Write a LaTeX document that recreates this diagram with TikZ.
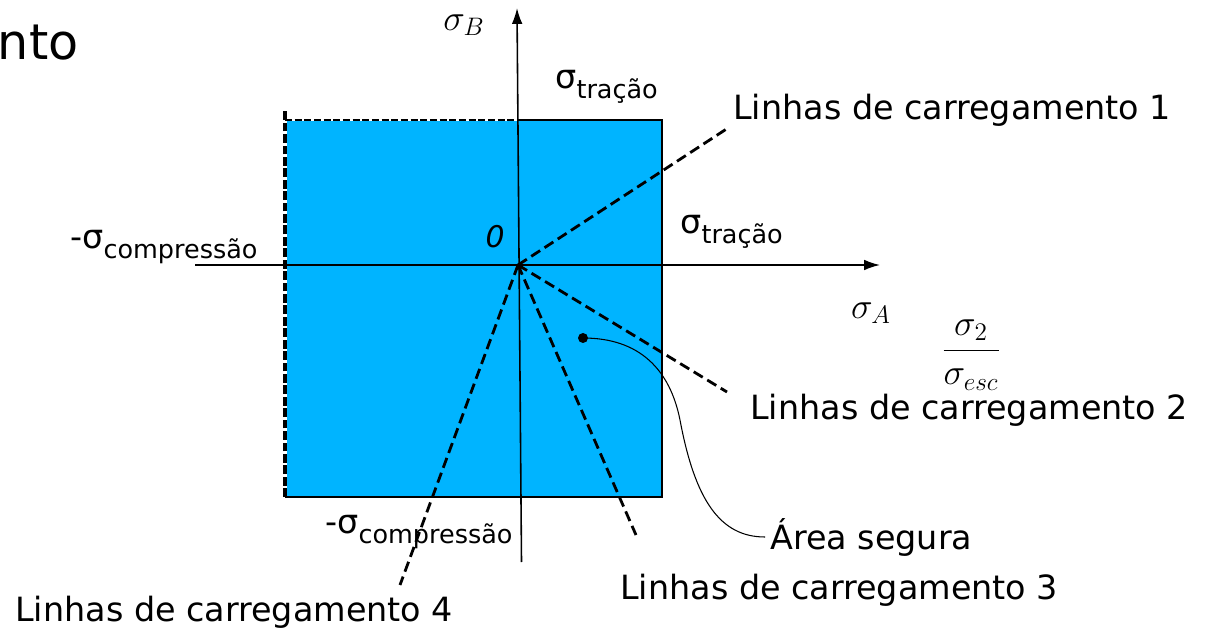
\documentclass[tikz,border=0pt]{standalone}
\usepackage{fontspec}
\setmainfont{DejaVu Sans}
\usetikzlibrary{arrows.meta}
\definecolor{safeblue}{RGB}{0,180,255}
\newcommand{\sigsub}[1]{σ\raisebox{-0.55ex}{\fontsize{14.5}{16}\selectfont #1}}

\begin{document}
\begin{tikzpicture}
        % Common Styles
        \tikzset{axis/.style={-{Latex[length=9pt,width=6pt]}, line width=0.9pt}}
        \tikzset{load/.style={line width=1.6pt, dash pattern=on 6pt off 3pt}}
        \tikzset{txt/.style={inner sep=0pt, font=\fontsize{19}{22}\selectfont}}
        \tikzset{mathtxt/.style={inner sep=0pt, font=\fontsize{20}{24}\selectfont}}

        \useasboundingbox (0,0) rectangle (24.2,12.7);

        % Safe region
        \fill[safeblue] (5.7,2.76) rectangle (13.24,10.3);
        \draw[line width=0.9pt] (10.36,10.3) -- (13.24,10.3) -- (13.24,2.76) -- (5.7,2.76);
        \draw[white, line width=1.8pt] (5.7,2.76) -- (5.7,10.5);
        \draw[white, line width=1.3pt] (5.7,10.3) -- (10.36,10.3);
        \draw[line width=1.8pt, dash pattern=on 5pt off 1.5pt] (5.7,2.76) -- (5.7,10.5);
        \draw[line width=1.3pt, dash pattern=on 4pt off 1.5pt] (5.7,10.3) -- (10.36,10.3);

        % Axes
        \coordinate (O) at (10.36,7.4);
        \coordinate (Ybot) at (10.43,1.46);
        \coordinate (Ytop) at (10.34,12.54);
        \coordinate (Xleft) at (3.9,7.4);
        \coordinate (Xright) at (17.6,7.4);
        \draw[axis] (Ybot) -- (Ytop);
        \draw[axis] (Xleft) -- (Xright);

        % Load lines
        \coordinate (L1) at (14.56,10.14);
        \coordinate (L2) at (14.54,4.86);
        \coordinate (L3) at (12.72,2.0);
        \coordinate (L4) at (8.0,1.0);
        \foreach \e in {L1,L2,L3,L4}
            \draw[load] (O) -- (\e);

        % Labels
        \node[txt, anchor=west, font=\fontsize{28}{32}\selectfont] (title) at (-0.05,11.85) {nto};
        \node[mathtxt] (sigB) at (9.28,12.2) {$\sigma_B$};
        \node[txt, anchor=west] (tracaoTop) at (11.1,10.96) {\sigsub{tração}};
        \node[txt, anchor=west] (linha1) at (14.66,10.5) {Linhas de carregamento 1};
        \node[txt, anchor=west] (compLeft) at (1.4,7.76) {-\sigsub{compressão}};
        \node[txt, font=\fontsize{17}{20}\selectfont\itshape] (zero) at (9.9,7.96) {0};
        \node[txt, anchor=west] (tracaoRight) at (13.6,8.06) {\sigsub{tração}};
        \node[mathtxt] (sigA) at (17.42,6.44) {$\sigma_A$};
        \node[mathtxt, font=\fontsize{21}{24}\selectfont] (frac) at (19.42,5.6) {$\displaystyle\frac{\sigma_2}{\sigma_{esc}}$};
        \node[txt, anchor=west] (linha2) at (15.0,4.5) {Linhas de carregamento 2};
        \node[txt, anchor=west] (compBottom) at (6.5,2.06) {-\sigsub{compressão}};
        \node[txt, anchor=west] (area) at (15.4,1.96) {Área segura};
        \node[txt, anchor=west] (linha3) at (12.4,0.9) {Linhas de carregamento 3};
        \node[txt, anchor=west] (linha4) at (0.3,0.46) {Linhas de carregamento 4};

        % Safe point
        \fill (11.66,5.94) circle (0.1) coordinate (pt);
        \draw[line width=0.6pt] (pt) .. controls (12.8,5.94) and (13.4,5.3) .. (13.6,4.3)
            .. controls (13.9,2.7) and (14.4,1.96) .. ([xshift=-0.1cm]area.west);
\end{tikzpicture}
\end{document}
